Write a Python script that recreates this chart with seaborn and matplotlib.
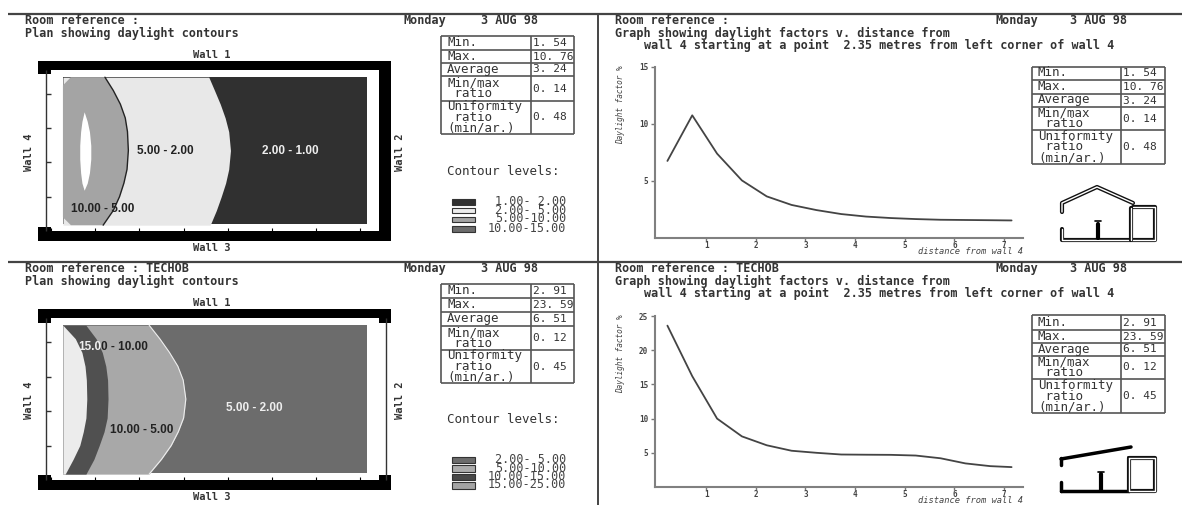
import numpy as np
import pandas as pd
import matplotlib
matplotlib.use('Agg')
import matplotlib.pyplot as plt
from matplotlib.patches import Rectangle
import seaborn as sns

W, H = 1182, 505
sns.set_theme(style='white')
MONO = 'DejaVu Sans Mono'

########## graph data: daylight factor v. distance from wall 4 ##########
dist = [0.22, 0.72, 1.22, 1.72, 2.22, 2.72, 3.22, 3.72, 4.22, 4.72, 5.22, 5.72, 6.22, 6.72, 7.15]
df_top = [6.76, 10.76, 7.4, 5.05, 3.65, 2.9, 2.45, 2.1, 1.88, 1.75, 1.66, 1.6, 1.58, 1.56, 1.54]
df_bot = [23.59, 16.2, 10.0, 7.4, 6.1, 5.3, 5.0, 4.75, 4.72, 4.7, 4.6, 4.2, 3.45, 3.05, 2.91]

########## plan data: contour boundaries in metres ##########
room_x, room_y = 7.42, 4.7
grid_x = [0.27, 7.15]
grid_y = [0.19, 4.49]
y_levels = [4.49, 4.1, 3.7, 3.3, 2.9, 2.35, 1.8, 1.4, 1.0, 0.6, 0.17]
top_b_10_5 = [1.22, 1.41, 1.57, 1.68, 1.73, 1.75, 1.72, 1.65, 1.55, 1.41, 1.18]
top_b_5_2 = [3.57, 3.70, 3.83, 3.94, 4.02, 4.06, 4.02, 3.95, 3.85, 3.74, 3.60]
top_edge_x = [0.45, 0.27, 0.27, 0.45]
top_edge_y = [4.49, 4.25, 0.4, 0.17]
lens_y = [3.48, 3.2, 2.9, 2.5, 2.1, 1.7, 1.4, 1.19]
lens_left = [0.75, 0.70, 0.67, 0.65, 0.65, 0.67, 0.70, 0.75]
lens_right = [0.75, 0.82, 0.87, 0.90, 0.90, 0.87, 0.82, 0.75]

bot_b_25_15 = [0.27, 0.55, 0.70, 0.77, 0.80, 0.81, 0.79, 0.73, 0.65, 0.50, 0.32]
bot_b_15_10 = [0.79, 1.02, 1.16, 1.24, 1.28, 1.29, 1.27, 1.20, 1.09, 0.97, 0.79]
bot_b_10_5 = [2.22, 2.46, 2.68, 2.87, 2.99, 3.05, 3.00, 2.88, 2.72, 2.50, 2.22]

########## tables ##########
row_names = ['Min.', 'Max.', 'Average', 'Min/max\n ratio', 'Uniformity\n ratio\n(min/ar.)']
vals_top = ['1. 54', '10. 76', '3. 24', '0. 14', '0. 48']
vals_bot = ['2. 91', '23. 59', '6. 51', '0. 12', '0. 45']
levels_top = ['1.00- 2.00', '2.00- 5.00', '5.00-10.00', '10.00-15.00']
levels_bot = ['2.00- 5.00', '5.00-10.00', '10.00-15.00', '15.00-25.00']
swatch_top = ['#303030', '#ececec', '#a4a4a4', '#6c6c6c']
swatch_bot = ['#6c6c6c', '#acacac', '#484848', '#a4a4a4']

fig = plt.figure(figsize=(W / 100, H / 100), dpi=100, facecolor='white')

bg = fig.add_axes([0, 0, 1, 1], zorder=0)
bg.set_xlim(0, W)
bg.set_ylim(H, 0)
bg.axis('off')


def px_axes(x0, y0, x1, y1, zorder=1):
    ax = fig.add_axes([x0 / W, 1 - y1 / H, (x1 - x0) / W, (y1 - y0) / H], zorder=zorder)
    ax.patch.set_alpha(0)
    return ax


def box(x0, y0, x1, y1, color='black', z=1):
    bg.add_patch(Rectangle((x0, y0), x1 - x0, y1 - y0, fc=color, ec='none', zorder=z))


def mono(x, y, s, size=8.5, bold=False, color='#333333', **kw):
    # one line text goes on its baseline so descenders do not shift it
    if 'rotation' in kw or '\n' in s:
        kw.setdefault('va', 'center')
    else:
        kw.setdefault('va', 'baseline')
        y = y + 3
    bg.text(x, y, s, family=MONO, fontsize=size, color=color,
            fontweight='bold' if bold else 'normal', **kw)


def stats_table(x0, xd, x1, edges, values):
    bg.hlines(edges, x0, x1, color='#555555', lw=1.2)
    bg.vlines([x0, xd, x1], edges[0], edges[-1], color='#555555', lw=1.2)
    for i in range(5):
        yc = (edges[i] + edges[i + 1]) / 2
        mono(x0 + 6, yc, row_names[i], size=9, linespacing=0.78)
        mono(xd + 2, yc, values[i], size=8)


def headers(x, xday, xdate, y, room_name, lines):
    mono(x, y, 'Room reference : ' + room_name, bold=True)
    mono(xday, y, 'Monday', bold=True)
    mono(xdate, y, '3 AUG 98', bold=True)
    for i, (dx, s) in enumerate(lines):
        mono(x + dx, y + 12.5 * (i + 1), s, bold=True)


def plan_common(top, bottom, values, t_edges, levels, swatches, sw_edges, room_name):
    headers(25, 404, 481, top + 7, room_name, [(0, 'Plan showing daylight contours')])
    mono(212, top + 41, 'Wall 1', ha='center', size=7.5, bold=True)
    mono(212, bottom + 7, 'Wall 3', ha='center', size=7.5, bold=True)
    mono(29, top + 138, 'Wall 4', ha='center', rotation=90, size=7.5, bold=True)
    mono(400, top + 138, 'Wall 2', ha='center', rotation=90, size=7.5, bold=True)
    stats_table(441, 531, 574, t_edges, values)
    mono(447, top + 158, 'Contour levels:', size=9)
    for i in range(4):
        y0, y1 = sw_edges[i]
        bg.add_patch(Rectangle((452, y0), 23, y1 - y0, fc=swatches[i], ec='#333333', lw=0.8, zorder=2))
        mono(566, (y0 + y1) / 2, levels[i], size=8.5, ha='right', color='#444444')


def room_axes(y0, y1):
    ax = px_axes(51, y0, 379, y1)
    ax.set_xlim(0, room_x)
    ax.set_ylim(0, room_y)
    ax.axis('off')
    ax.vlines(range(0, 8), 0, 0.08, color='black', lw=0.8)
    return ax


def graph(y0, y1, ymax, yticks, values):
    ax = px_axes(655, y0, 1023, y1)
    sns.lineplot(x=dist, y=values, ax=ax, color='#444444', lw=1.3, errorbar=None, sort=False)
    ax.set_xlim(-0.03, 7.38)
    ax.set_ylim(0, ymax)
    ax.set_xticks(range(1, 8))
    ax.set_yticks(yticks)
    ax.tick_params(axis='x', length=2, width=1, color='#777777', labelsize=5.5, pad=0,
                   labelcolor='#444444', bottom=True)
    ax.tick_params(axis='y', length=3, width=1, color='#777777', labelsize=5.5, pad=2,
                   labelcolor='#444444', left=True)
    for lab in ax.get_xticklabels() + ax.get_yticklabels():
        lab.set_family(MONO)
        lab.set_fontweight('bold')
    sns.despine(ax=ax)
    for s in ['left', 'bottom']:
        ax.spines[s].set_color('#808080')
        ax.spines[s].set_linewidth(1.5)
    mono(1023, y1 + 13, 'distance from wall 4', size=6.3, ha='right', style='oblique', color='#444444')
    mono(621, y0 + 38, 'Daylight factor %', size=5.6, ha='center', rotation=90, style='oblique', color='#444444')
    return ax


# frame rules
bg.hlines([14, 262], 8, W, color='#444444', lw=1.6)
bg.vlines(598, 14, H, color='#444444', lw=1.4)

########## top left plan ##########
plan_common(14, 241, vals_top, [36, 50, 63, 76, 101, 134], levels_top, swatch_top,
            [(199, 205), (208, 213), (217, 222), (226, 232)], '')
box(38, 61, 391, 70)
box(38, 231, 391, 241)
box(379, 61, 391, 241)
box(38, 61, 51, 74)
box(38, 227, 51, 241)
rt = room_axes(70, 231)
rt.vlines(-0.11, 0, room_y, color='#333333', lw=1, clip_on=False)
rt.hlines(range(1, 5), -0.11, 0, color='#333333', lw=1, clip_on=False)
rt.fill_between(grid_x, grid_y[0], grid_y[1], color='#303030', lw=0)
rt.fill_betweenx(y_levels, grid_x[0], top_b_5_2, color='#e8e8e8', lw=0)
rt.fill(top_edge_x + top_b_10_5[::-1], top_edge_y + y_levels[::-1], color='#a4a4a4', lw=0)
rt.plot(top_b_10_5, y_levels, color='#222222', lw=1)
rt.fill_betweenx(lens_y, lens_left, lens_right, color='white', lw=0)
rt.text(165, 151, '5.00 - 2.00', transform=bg.transData, family='Liberation Sans', fontweight='bold',
        fontsize=8.5, color='#222222', ha='center', va='center')
rt.text(290, 151, '2.00 - 1.00', transform=bg.transData, family='Liberation Sans', fontweight='bold',
        fontsize=8.5, color='#eeeeee', ha='center', va='center')
rt.text(103, 209, '10.00 - 5.00', transform=bg.transData, family='Liberation Sans', fontweight='bold',
        fontsize=8.5, color='#222222', ha='center', va='center')

########## bottom left plan ##########
plan_common(262, 490, vals_bot, [284, 298, 312, 326, 350, 383], levels_bot, swatch_bot,
            [(457, 463), (465, 472), (474, 480), (482, 489)], 'TECHOB')
box(38, 309, 391, 318)
box(38, 480, 391, 490)
for xa, xb in [(38, 51), (379, 391)]:
    box(xa, 309, xb, 323)
    box(xa, 475, xb, 490)
rb = room_axes(318, 480)
rb.vlines([-0.11, room_x + 0.16], 0, room_y, color='#333333', lw=1, clip_on=False)
rb.hlines(range(1, 5), -0.11, 0, color='#333333', lw=1, clip_on=False)
rb.fill_between(grid_x, grid_y[0], grid_y[1], color='#6c6c6c', lw=0)
rb.fill_betweenx(y_levels, grid_x[0], bot_b_10_5, color='#a8a8a8', lw=0)
rb.plot(bot_b_10_5, y_levels, color='#eeeeee', lw=0.8)
rb.fill_betweenx(y_levels, grid_x[0], bot_b_15_10, color='#505050', lw=0)
rb.fill_betweenx(y_levels, grid_x[0], bot_b_25_15, color='#ececec', lw=0)
rb.text(254, 408, '5.00 - 2.00', transform=bg.transData, family='Liberation Sans', fontweight='bold',
        fontsize=8.5, color='#eeeeee', ha='center', va='center')
rb.text(142, 430, '10.00 - 5.00', transform=bg.transData, family='Liberation Sans', fontweight='bold',
        fontsize=8.5, color='#222222', ha='center', va='center')
rb.text(101, 347, '15.0', transform=bg.transData, family='Liberation Sans', fontweight='bold',
        fontsize=8.5, color='#eeeeee', ha='right', va='center')
rb.text(101, 347, '0 - 10.00', transform=bg.transData, family='Liberation Sans', fontweight='bold',
        fontsize=8.5, color='#222222', ha='left', va='center')

########## graphs ##########
graph_title = [(0, 'Graph showing daylight factors v. distance from'),
               (29, 'wall 4 starting at a point  2.35 metres from left corner of wall 4')]
headers(615, 995, 1070, 21, '', graph_title)
headers(615, 995, 1070, 269, 'TECHOB', graph_title)
graph(67, 238, 15, [5, 10, 15], df_top)
graph(316, 487, 25, [5, 10, 15, 20, 25], df_bot)
stats_table(1032, 1121, 1165, [67, 80, 94, 107, 130, 164], vals_top)
stats_table(1032, 1121, 1165, [315, 330, 343, 356, 379, 413], vals_bot)

########## section sketches ##########
top_shell_x = [1062, 1062, 1097, 1133]
top_shell_y = [212, 203, 187, 203]
top_annex_x = [1133, 1155, 1155, 1062, 1062]
top_annex_y = [207, 207, 240, 240, 229]
for xs, ys in [(top_shell_x, top_shell_y), (top_annex_x, top_annex_y), ([1131, 1131], [208, 240])]:
    bg.plot(xs, ys, color='#111111', lw=3)
    bg.plot(xs, ys, color='white', lw=1)
bg.plot([1098, 1098], [224, 238], color='black', lw=3)
bg.plot([1095, 1101], [221, 221], color='black', lw=1.2)

bot_annex_x = [1129, 1155, 1155, 1129, 1129]
bot_annex_y = [458, 458, 491, 491, 458]
bg.plot([1061, 1131], [459, 447], color='black', lw=2.5)
bg.plot([1061, 1061], [458, 465], color='black', lw=2.5)
bg.plot([1061, 1061], [482, 491], color='black', lw=2.5)
bg.plot([1061, 1129], [491, 491], color='black', lw=2.5)
bg.plot(bot_annex_x, bot_annex_y, color='#111111', lw=3)
bg.plot(bot_annex_x, bot_annex_y, color='white', lw=1)
bg.plot([1101, 1101], [474, 490], color='black', lw=3)
bg.plot([1098, 1104], [472, 472], color='black', lw=1.2)

fig.savefig('out.png', dpi=100)
